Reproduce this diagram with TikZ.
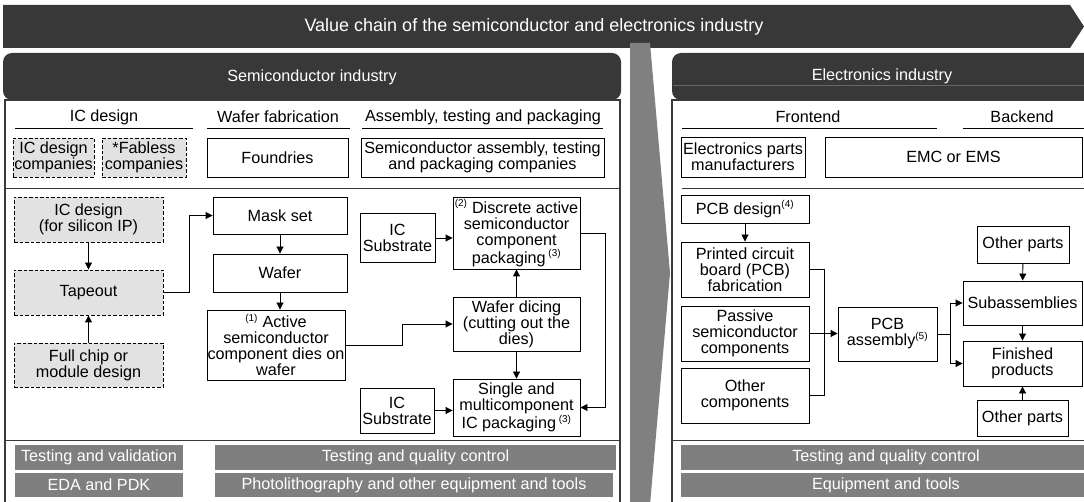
\documentclass[tikz,border=0pt]{standalone}
\usepackage{fontspec}
\setmainfont{Liberation Sans}
\usetikzlibrary{arrows.meta,positioning}

\definecolor{hdrdark}{HTML}{383838}
\definecolor{barfill}{HTML}{7F7F7F}
\definecolor{dashfill}{HTML}{E2E2E2}
\definecolor{chevfill}{HTML}{808080}
\definecolor{panelline}{HTML}{3A3A3A}

\newcommand{\fnote}[1]{\textsuperscript{\fontsize{10}{10}\selectfont(#1)}}

\begin{document}
\begin{tikzpicture}[
  x=1pt, y=-1pt,
  font=\fontsize{16.2}{16}\selectfont,
  sz/.style 2 args={minimum width=#1, minimum height=#2},
  box/.style={draw, line width=0.9pt, fill=white, align=center, inner sep=0.5pt},
  dbox/.style={box, fill=dashfill, dash pattern=on 3.5pt off 2pt},
  bar/.style={fill=barfill, text=white, inner sep=0pt, minimum height=25},
  hdr/.style={text=white},
  colhead/.style={inner sep=0pt},
  uline/.style={line width=0.9pt},
  sep/.style={line width=0.8pt, draw=panelline},
  panel/.style={line width=1.2pt, draw=panelline},
  arr/.style={-{Triangle[length=7pt,width=7pt]}, line width=0.9pt}
]
\useasboundingbox (0,0) rectangle (1084,502);

% Panels
\draw[panel] (5,100) rectangle (620,510);
\draw[panel] (672,100) rectangle (1095,510);
\fill[hdrdark, rounded corners=9pt] (3,53) rectangle (621,100);
\fill[hdrdark, rounded corners=9pt] (672,53) rectangle (1100,100);
\draw[line width=0.6pt, draw=black!60] (673,85) -- (1084,85);
\node[hdr] (semi) at (312,77) {Semiconductor industry};
\node[hdr] (elec) at (882,76) {Electronics industry};

% Banner
\fill[hdrdark] (3,5) -- (1070,5) -- (1084,26.5) -- (1070,48) -- (3,48) -- cycle;
\node[hdr, font=\fontsize{18}{18}\selectfont] (title) at (534,26.5) {Value chain of the semiconductor and electronics industry};
\fill[chevfill] (630,43) -- (650,43) -- (670,273) -- (650,505) -- (630,505) -- cycle;

% Column headings
\node[colhead] (hic) at (104,117) {IC design};
\node[colhead] (hwf) at (278,117) {Wafer fabrication};
\node[colhead] (hat) at (483,117) {Assembly, testing and packaging};
\node[colhead] (hfe) at (808,117) {Frontend};
\node[colhead] (hbe) at (1022,117) {Backend};
\draw[uline] (15,128) -- (193,128);
\draw[uline] (207,128) -- (350,128);
\draw[uline] (362,128) -- (603,128);
\draw[uline] (682,128) -- (937,128);
\draw[uline] (963,128) -- (1084,128);

% Companies
\node[dbox, sz={81}{39}] (icco) at (53.5,157.5) {IC design\\companies};
\node[dbox, sz={84}{39}] (fabl) at (144,157.5) {*Fabless\\companies};
\node[box, sz={141}{39}] (foun) at (277.5,157.5) {Foundries};
\node[box, sz={243}{39}] (satp) at (482.5,157.5) {Semiconductor assembly, testing\\and packaging companies};
\node[box, sz={124}{40}] (epm) at (743,157) {Electronics parts\\manufacturers};
\node[box, sz={257}{40}] (emc) at (953.5,157) {EMC or EMS};
\draw[sep] (5,188) -- (620,188);
\draw[sep] (682,188) -- (1084,188);

% IC design flow
\node[dbox, sz={149}{45}] (icip) at (88.5,219.5) {IC design\\(for silicon IP)};
\node[dbox, sz={149}{45}] (tape) at (88.5,292.5) {Tapeout};
\node[dbox, sz={149}{44}] (full) at (88.5,365) {Full chip or\\module design};
\draw[arr] (icip) -- (tape);
\draw[arr] (full) -- (tape);

% Wafer fabrication
\node[box, sz={134}{37}] (mask) at (280,215.5) {Mask set};
\node[box, sz={134}{38}] (wafr) at (280,273) {Wafer};
\node[box, sz={138}{70}] (actv) at (276,345) {\fnote{1} Active\\semiconductor\\component dies on\\wafer};
\draw[arr] (tape.east) -- ++(26,0) |- (mask.west);
\draw[arr] (mask) -- (wafr);
\draw[arr] (wafr.south) -- (wafr.south |- actv.north);

% Assembly, testing and packaging
\node[box, sz={75}{49}] (subA) at (397.5,238) {IC\\Substrate};
\node[box, sz={127}{72}] (disc) at (516.5,233) {\fnote{2} Discrete active\\semiconductor\\component\\packaging\,\fnote{3}};
\node[box, sz={127}{54}] (dice) at (516.5,324) {Wafer dicing\\(cutting out the\\dies)};
\node[box, sz={74}{45}] (subB) at (397,410.5) {IC\\Substrate};
\node[box, sz={127}{57}] (sngl) at (516.5,407.5) {Single and\\multicomponent\\IC packaging\,\fnote{3}};
\draw[arr] (subA.east) -- (subA.east -| disc.west);
\draw[arr] (actv.east) -- ++(57,0) |- (dice.west);
\draw[arr] (dice) -- (disc);
\draw[arr] (dice) -- (sngl);
\draw[arr] (subB.east) -- (subB.east -| sngl.west);
\draw[arr] (disc.east) -- ++(25,0) |- (sngl.east);

% Electronics flow
\node[box, sz={128}{28}] (pcbd) at (745,209) {PCB design\fnote{4}};
\node[box, sz={128}{55}] (pcbf) at (745,269.5) {Printed circuit\\board (PCB)\\fabrication};
\node[box, sz={128}{55}] (pass) at (745,333.5) {Passive\\semiconductor\\components};
\node[box, sz={128}{55}] (othc) at (745,395.5) {Other\\components};
\node[box, sz={99}{54}] (pcba) at (887.5,334) {PCB\\assembly\fnote{5}};
\node[box, sz={92}{37}] (othA) at (1023,244.5) {Other parts};
\node[box, sz={119}{44}] (suba) at (1022.5,303) {Subassemblies};
\node[box, sz={119}{45}] (fini) at (1022.5,363.5) {Finished\\products};
\node[box, sz={91}{36}] (othB) at (1022.5,418) {Other parts};
\draw[arr] (pcbd) -- (pcbf);
\draw[line width=0.9pt] (pcbf.east) -- ++(15,0) |- (othc.east);
\draw[arr] (pass.east) -- (pass.east -| pcba.west);
\draw[arr] (pcba.east) -- ++(13,0) |- (suba.west);
\draw[arr] (pcba.east) -- ++(13,0) |- (fini.west);
\draw[arr] (othA) -- (suba);
\draw[arr] (suba) -- (fini);
\draw[arr] (othB) -- (fini);

% Support rows
\draw[sep] (5,440) -- (620,440);
\draw[sep] (673,440) -- (1084,440);
\node[bar, minimum width=168] (tval) at (99,457.5) {Testing and validation};
\node[bar, minimum width=168, minimum height=24] (eda) at (99,485) {EDA and PDK};
\node[bar, minimum width=401] (tqcA) at (415.5,457.5) {Testing and quality control};
\node[bar, minimum width=398, minimum height=24] (phot) at (414,485) {Photolithography and other equipment and tools};
\node[bar, minimum width=410] (tqcB) at (886,457.5) {Testing and quality control};
\node[bar, minimum width=410, minimum height=24] (eqt) at (886,485) {Equipment and tools};
\end{tikzpicture}
\end{document}
